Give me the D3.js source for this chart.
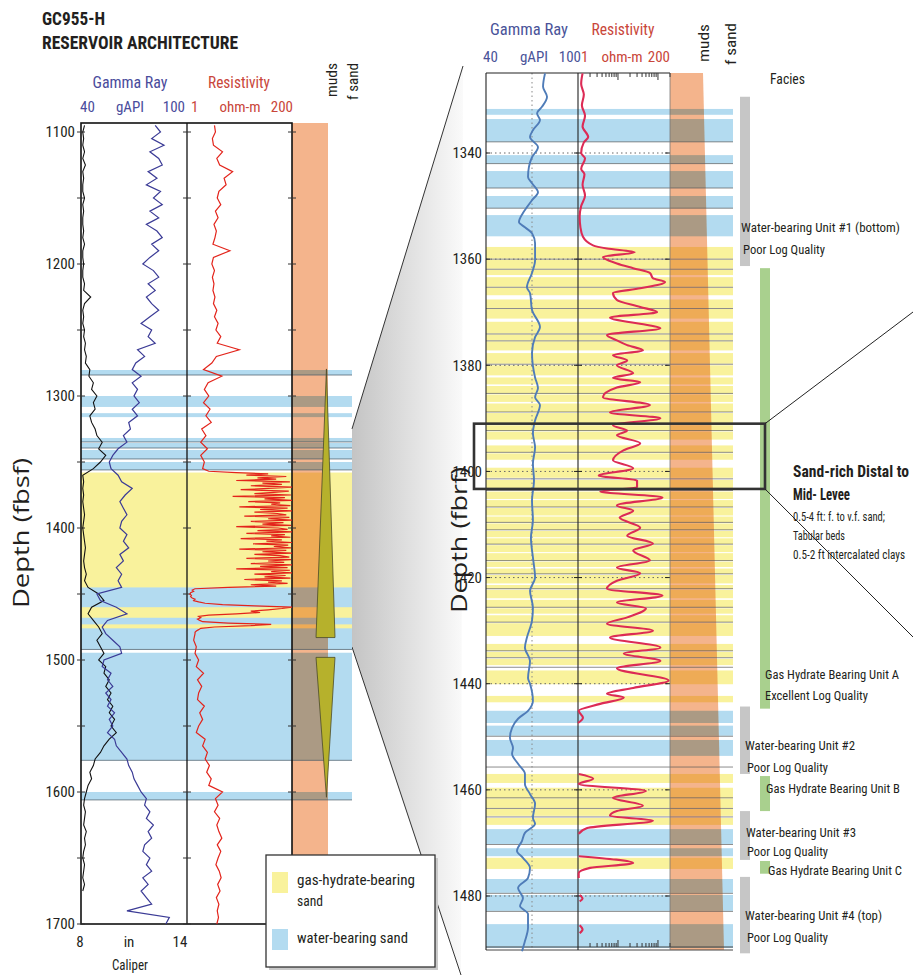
<!DOCTYPE html>
<html><head><meta charset="utf-8">
<script src="https://cdn.jsdelivr.net/npm/d3@7"></script>
<style>
body{margin:0;background:#fff;}
svg{display:block;}
text{font-family:"Liberation Sans Narrow","Arial Narrow","Roboto Condensed","DejaVu Sans Condensed",sans-serif;}
</style></head><body>
<svg id="c" width="913" height="975"></svg>
<script>
// ================= DATA =================
const leftDepthTicks = [1100,1200,1300,1400,1500,1600,1700];
const rightDepthTicks = [1340,1360,1380,1400,1420,1440,1460,1480];

// Left log (1095-1700, every 5 ft)
const leftStart = 1095, leftStep = 5;
const grLeft = [82,85,80,87,79,84,86,78,83,77,
 85,81,86,79,84,77,83,86,80,84,
 79,75,81,84,78,82,77,80,84,79,
 74,80,78,82,72,76,71,69,74,69,
 72,70,73,69,72,67,68,64,66,61,
 58,56,57,61,63,69,65,62,64,66,
 63,62,66,64,67,62,64,60,63,61,
 63,49,51,60,66,55,52,54,58,62,
 63,53,52,57,55,58,54,57,55,59,
 56,58,55,59,60,63,66,67,69,70,
 72,74,77,76,79,77,81,78,80,76,
 75,79,77,80,75,78,74,77,80,66,
 90,88];
const caliperLeft = [8.2,8.1,8.15,8.1,8.2,8.1,8.25,8.1,8.15,8.1,
 8.1,8.2,8.1,8.15,8.1,8.1,8.15,8.1,8.2,8.1,
 8.1,8.15,8.1,8.1,8.2,8.15,8.55,8.2,8.1,8.15,
 8.1,8.2,8.15,8.25,8.2,8.3,8.25,8.5,8.45,8.7,
 8.6,8.9,8.7,8.8,8.5,8.6,8.8,8.9,9.2,9.0,
 9.4,9.1,8.7,8.1,8.15,8.1,8.15,8.1,8.15,8.2,
 8.15,8.1,8.15,8.2,8.25,8.2,8.15,8.2,8.3,8.2,
 8.4,9.0,9.3,8.6,8.4,8.7,9.0,9.2,8.9,9.1,
 9.3,9.0,9.4,9.3,9.6,9.4,9.7,9.5,9.8,9.6,
 9.9,9.7,10.0,9.6,9.3,9.1,8.8,8.7,8.5,8.6,
 8.4,8.3,8.2,8.15,8.25,8.2,8.15,8.3,8.2,8.25,
 8.15,8.1,8.2,8.15,8.1,8.2,8.1,null,null,null,
 null,null];
// Left resistivity in three sampling segments
const resLeftAStart = 1095, resLeftAStep = 5;
const resLeftA = [4.0,4.2,3.6,3.8,6.0,4.5,5.2,10,6.5,7.2,
 5.0,4.6,5.5,4.2,4.8,3.9,4.4,4.1,3.7,8.7,
 3.8,3.5,4.0,3.6,3.9,3.7,4.1,3.8,4.5,4.0,
 4.8,4.3,5.5,4.6,14,4.4,3.5,2.3,5.8,2.9,
 2.4,3.0,2.3,3.2,2.6,3.4,2.1,2.6,2.0,2.8,
 2.0,2.4,2.2];
const resLeftBStart = 1357, resLeftBStep = 1;
const resLeftB = [3,12,60,20,150,35,90,12,180,45,
 120,25,200,60,15,170,80,30,190,10,
 140,50,200,22,110,70,185,14,160,40,
 200,30,95,150,18,175,60,200,25,130,
 45,190,12,100,160,35,200,20,140,70,
 185,15,120,55,200,28,165,80,190,14,
 150,45,200,30,110,175,20,190,60,135,
 25,200,40,160,12,180,70,200,30,145,
 50,185,18,120,60,160,25,90,8,1.5,
 1.3,1.4,1.2,1.15,1.25,1.2,1.3,1.5,1.4,1.8,
 2.5,6,30,200,120,60,25,40,12,3,
 1.8,2.0,1.7,1.9,2.2,8,70,25,4,2.0,
 1.8,1.6,1.5];
const resLeftCStart = 1480, resLeftCStep = 5;
const resLeftC = [1.5,1.4,1.6,1.5,1.8,1.6,2.3,1.7,2.1,1.8,1.7,2.4,1.9,2.2,1.8,1.6,2.5,2.2,2.8,2.5,3.1,2.7,3.4,3.0,
 6.0,4.2,4.8,4.0,5.2,4.5,5.0,5.8,4.6,5.5,4.8,4.3,5.1,5.6,4.7,5.3,4.4,5.0,4.6,4.9,4.5];

// Left sand intervals (ft)
const leftBandTop    = [1280.3,1300,1313,1331.8,1335.6,1340.9,1350,1358,1445,1460,1468,1473,1476,1494.5,1600];
const leftBandBottom = [1284.1,1308.3,1316,1334.8,1339.4,1347.7,1356,1445,1460,1468,1473,1476,1492,1576,1606];
const leftBandKind   = ['w','w','w','w','w','w','w','h','w','h','w','h','w','w','w'];
const leftLineDepth  = [1284.1,1334.8,1339.4,1347.7,1356,1492,1576,1606];
// grain-size triangles (depth of wide end / narrow end)
const triWide   = [1483,1498];
const triNarrow = [1279.5,1604];

// Right (zoomed) log
const grRightDepth = [1325,1327.5,1329.4,1331.3,1332.5,1333.8,1335.7,1337,1338.9,1340.8,
 1342.6,1344.5,1345.7,1347.4,1348.9,1350.2,1351.3,1353,1354,1355.1,
 1357,1360.2,1362.6,1365.3,1366.4,1369.6,1372.8,1374.7,1377.7,1382.3,
 1384.3,1386,1387.5,1390.4,1392.8,1395.5,1398.5,1401.7,1405.5,1409.2,
 1412.5,1416.2,1420,1422.5,1425.7,1428.1,1431.3,1433.2,1435.7,1438.9,
 1440,1443.2,1445.1,1446.6,1448.3,1450.2,1452.1,1453.2,1455.1,1457,
 1458.9,1460.8,1462.6,1465.3,1466.4,1468.1,1469.6,1471.5,1472.8,1474.7,
 1476.6,1478.5,1480.4,1481.9,1483.4,1486,1488.5,1490.4];
const grRightVal = [78.5,77.2,79.8,76.5,73.3,75.2,70.6,68.7,73.9,70,
 68,67.4,70,73.9,70,66.7,64.1,61.5,65.4,70,
 72,72,70,66.7,68.7,70,75.2,72,70,72,
 73.9,72,75.2,72,70.6,72,70.6,71.3,70,70.6,
 69.3,70.6,72,68.7,70.6,70,66.7,65.4,68.7,67.4,
 68.7,70.6,67.4,60.9,57,55.6,57.6,57,60.9,65.4,
 65.4,68.7,72,70.6,72,65.4,63.5,60.2,64.1,68.7,
 67.4,60.9,64.1,62.2,67.4,67.4,65.4,63.5];
const resRightDepth = [1325,1327,1329,1331,1333,1335,1337,1338,1340,1341,
 1343,1344,1346,1348,1350,1352,1354,1355.8,1357.4,1358,
 1358.7,1359.6,1360.8,1361.7,1362.6,1363.6,1364.3,1365.5,1366.4,1367.7,
 1369,1370,1371,1372.5,1373,1374.3,1375.3,1376.2,1377.2,1378.1,
 1379.1,1380,1381.5,1382.4,1383.2,1384.2,1386,1387.5,1388.9,1390,
 1391.3,1392.3,1393.2,1394.7,1396,1397.9,1399.4,1400.8,1401.7,1403,
 1403.8,1404.9,1406.4,1407.4,1408.7,1410.6,1412.1,1413.6,1414.9,1416.8,
 1418.1,1419.2,1420.6,1422.1,1423.4,1424.7,1425.8,1427.5,1428.7,1430,
 1431.3,1433.2,1434.3,1435.7,1437.1,1439.4,1440.8,1441.9,1442.6,1443.8,
 1445.1,1446.4,1447.4,1448,1457,1457.9,1458.9,1460.2,1461.5,1463,
 1464,1464.9,1465.8,1467.2,1468.3,1469,1472.5,1473.8,1474.7,1475.7,
 1476.6,1477,1479.8,1480.5,1481,1482,1485.5,1486.3,1487];
const resRightVal = [1.3,1.2,1.4,1.25,1.5,1.3,1.8,1.4,1.2,1.5,
 1.2,1.45,1.3,1.5,1.2,1.1,1.15,1.33,2.37,5.3,
 26,4.2,9.4,24,63,75,150,36,7.5,9.4,
 36,95,6.3,63,115,5.3,9.4,17,42,7.5,
 17,9.4,24,7.5,36,9.4,4.2,63,6.3,115,
 7.5,17,9.4,36,14,7.5,24,3.3,30,30,
 3.6,130,9.4,24,11,36,17,75,24,63,
 9.4,36,9.4,5.3,130,9.4,50,17,5.3,75,
 6.3,115,14,115,9.4,185,24,5.3,14,3.6,
 1.04,1.33,1.0,null,1.04,2.4,1.04,50,7.5,42,
 9.4,6.3,75,1.7,1.04,null,1.04,24,2.0,1.04,
 1.04,null,1.1,1.3,1.1,null,1.1,1.3,1.1];

const rightBlueTop    = [1331.7,1333.6,1340.4,1343.4,1348.1,1351.7,1445.1,1447.9,1450.6,1467.4,1471.0,1476.8,1479.8,1485.3];
const rightBlueBottom = [1332.8,1337.9,1342.0,1346.6,1350.4,1355.7,1447.4,1449.8,1453.6,1470.2,1472.5,1479.4,1482.8,1489.8];
const rightYellowTop = [1357.7,1360.1,1362.0,1363.4,1365.4,1367.6,1369.4,1371.8,1374.2,1375.5,
 1377.7,1380.0,1382.3,1383.9,1385.5,1387.2,1389.0,1391.3,1392.5,1395.1,
 1396.6,1399.3,1401.6,1403.8,1405.4,1406.9,1408.5,1409.8,1411.2,1412.6,
 1413.9,1415.4,1417.0,1418.3,1419.5,1421.4,1422.3,1424.2,1425.8,1427.1,
 1428.6,1432.5,1434.0,1435.3,1437.5,1442.3,1457.0,1459.6,1461.6,1463.6,
 1465.3,1472.8];
const rightYellowBottom = [1359.9,1361.8,1363.0,1365.2,1366.8,1369.2,1371.2,1374.0,1375.3,1377.2,
 1379.7,1381.9,1383.6,1385.3,1386.9,1388.8,1391.0,1392.3,1394.0,1396.4,
 1397.8,1401.2,1403.4,1405.2,1406.7,1408.3,1409.6,1411.0,1412.4,1413.7,
 1415.2,1416.8,1418.0,1419.3,1421.1,1422.1,1423.9,1425.6,1426.8,1428.4,
 1431.0,1433.8,1435.0,1436.5,1440.1,1443.5,1458.7,1461.5,1463.4,1464.9,
 1466.6,1474.9];
const rightLineDepth = [1337.9,1342.0,1346.6,1350.4,1360.0,1361.9,1365.3,1369.3,1374.1,1375.4,1379.8,1385.3,1388.8,1392.3,
 1396.4,1401.4,1403.6,1406.7,1409.6,1411.0,1413.7,1416.8,1419.3,1422.1,1425.6,1428.4,1433.8,1435.1,1436.9,
 1449.9,1455.7,1461.5,1463.5,1465.1,1470.3,1479.5,1482.9];

// Facies column
const faciesTop    = [1329.4,1361.7,1444.3,1457.4,1464.0,1473.4,1476.4];
const faciesBottom = [1361.3,1444.7,1457.0,1464.0,1473.2,1475.8,1490.8];
const faciesKind   = ['water','hydrate','water','hydrate','water','hydrate','water'];
const zoomBox = [1391, 1403.3];

// ================= SCALES / LAYOUT =================
const svg = d3.select('#c');
const L = {x0:81, x1:187, x2:292, m0:292, m1:328, b1:352, top:123, bottom:924};
const R = {x0:486, x1:578, x2:670, b1:733, top:73, bottom:950};
const yL = d3.scaleLinear().domain([1100,1700]).range([132,924]);
const yR = d3.scaleLinear().domain([1340,1480]).range([153,896]);
const xGRL = d3.scaleLinear().domain([40,100]).range([L.x0,L.x1]);
const xCalL = d3.scaleLinear().domain([8,14]).range([L.x0,L.x1]);
const xResL = d3.scaleLog().domain([1,200]).range([L.x1,L.x2]).clamp(true);
const xGRR = d3.scaleLinear().domain([40,100]).range([R.x0,R.x1]);
const xResR = d3.scaleLog().domain([1,200]).range([R.x1,R.x2]).clamp(true);

const YELLOW = '#f9f29c', BLUE = '#b3dbf0', ORANGE = '#f4b48c';
const WIDE = '"Open Sans","Liberation Sans",sans-serif';

function T(g, str, x, y, o = {}) {
  const t = g.append('text').attr('x', x).attr('y', y).text(str)
    .attr('font-size', o.size || 14).attr('fill', o.fill || '#231f20');
  if (o.anchor) t.attr('text-anchor', o.anchor);
  if (o.weight) t.attr('font-weight', o.weight);
  if (o.family) t.style('font-family', o.family);
  if (o.len) t.attr('textLength', o.len).attr('lengthAdjust', 'spacingAndGlyphs');
  if (o.rot) t.attr('transform', `rotate(${o.rot},${x},${y})`);
  return t;
}

// ================= CONNECTOR =================
const defs = svg.append('defs');
const grad = defs.append('linearGradient').attr('id', 'conn').attr('x1', 0).attr('x2', 1).attr('y1', 0).attr('y2', 0);
grad.append('stop').attr('offset', 0).attr('stop-color', '#c4c4c4');
grad.append('stop').attr('offset', 1).attr('stop-color', '#fafafa');
const rTopD = yR.invert(R.top), rBotD = yR.invert(R.bottom);
const cA = [L.b1, yL(rTopD)], cB = [463, 66], cC = [461, 975], cD = [L.b1, yL(rBotD)];
svg.append('polygon').attr('points', [cA, cB, cC, cD].map(p => p.join(',')).join(' ')).attr('fill', 'url(#conn)');
svg.append('line').attr('x1', cA[0]).attr('y1', cA[1]).attr('x2', cB[0]).attr('y2', cB[1]).attr('stroke', '#333').attr('stroke-width', 1);
svg.append('line').attr('x1', cD[0]).attr('y1', cD[1]).attr('x2', cC[0]).attr('y2', cC[1]).attr('stroke', '#333').attr('stroke-width', 1);

// ================= LEFT PANEL =================
const gL = svg.append('g').style('isolation', 'isolate');
gL.append('rect').attr('x', L.m0).attr('y', L.top).attr('width', L.m1 - L.m0).attr('height', L.bottom - L.top).attr('fill', ORANGE);
leftBandTop.forEach((t, i) => {
  gL.append('rect').attr('x', L.x0).attr('width', L.b1 - L.x0)
    .attr('y', yL(t)).attr('height', yL(leftBandBottom[i]) - yL(t))
    .attr('fill', leftBandKind[i] === 'h' ? YELLOW : BLUE).style('mix-blend-mode', 'multiply');
});
leftLineDepth.forEach(d => {
  gL.append('line').attr('x1', L.x0).attr('x2', L.b1).attr('y1', yL(d)).attr('y2', yL(d))
    .attr('stroke', '#4a5a66').attr('stroke-width', 0.9).attr('opacity', 0.8);
});
// triangles
const triX = d3.scaleLinear().domain([-1, 1]).range([316, 335]);
triWide.forEach((w, i) => {
  const n = triNarrow[i];
  const pts = [[triX(-1), yL(w)], [triX(1), yL(w)], [triX(0.1), yL(n)]];
  gL.append('polygon').attr('points', pts.map(p => p.join(',')).join(' '))
    .attr('fill', '#b6b12c').attr('stroke', '#4a4a2a').attr('stroke-width', 0.8);
});
// frame
gL.append('rect').attr('x', L.x0).attr('y', L.top).attr('width', L.x2 - L.x0).attr('height', L.bottom - L.top)
  .attr('fill', 'none').attr('stroke', '#111').attr('stroke-width', 1.6);
gL.append('line').attr('x1', L.x1).attr('x2', L.x1).attr('y1', L.top).attr('y2', L.bottom).attr('stroke', '#111').attr('stroke-width', 1.3);
d3.range(1100, 1701, 50).forEach(d => {
  [L.x0, L.x1, L.x2].forEach(x => {
    gL.append('line').attr('x1', x - 4).attr('x2', x + 4).attr('y1', yL(d)).attr('y2', yL(d)).attr('stroke', '#333').attr('stroke-width', 1);
  });
});
// curves
const seriesFrom = (start, step, arr) => arr.map((v, i) => ({d: start + i * step, v}));
const lineL = (xs) => d3.line().defined(p => p.v != null).x(p => xs(p.v)).y(p => yL(p.d));
gL.append('path').datum(seriesFrom(leftStart, leftStep, caliperLeft)).attr('d', lineL(xCalL))
  .attr('fill', 'none').attr('stroke', '#111').attr('stroke-width', 1.1);
gL.append('path').datum(seriesFrom(leftStart, leftStep, grLeft)).attr('d', lineL(xGRL))
  .attr('fill', 'none').attr('stroke', '#3b3b96').attr('stroke-width', 1.2);
const resLeftAll = seriesFrom(resLeftAStart, resLeftAStep, resLeftA)
  .concat(seriesFrom(resLeftBStart, resLeftBStep, resLeftB))
  .concat(seriesFrom(resLeftCStart, resLeftCStep, resLeftC));
gL.append('path').datum(resLeftAll).attr('d', lineL(xResL))
  .attr('fill', 'none').attr('stroke', '#e3241b').attr('stroke-width', 1.2);

// left axis labels
const axL = svg.append('g').attr('transform', `translate(${L.x0},0)`)
  .call(d3.axisLeft(yL).tickValues(leftDepthTicks).tickSize(0).tickPadding(6).tickFormat(d3.format('d')));
axL.select('.domain').remove();
axL.selectAll('text').attr('font-size', 15).attr('fill', '#231f20').attr('font-family', null);
T(svg, 'Depth (fbsf)', 29, 533, {size: 22, anchor: 'middle', rot: -90, len: 150, family: WIDE});

// left header
T(svg, 'GC955-H', 42, 25, {size: 19, weight: 'bold', len: 63});
T(svg, 'RESERVOIR ARCHITECTURE', 42, 49, {size: 19, weight: 'bold', len: 196});
T(svg, 'Gamma Ray', 130, 88, {size: 17, anchor: 'middle', fill: '#4a4c9c', len: 75});
T(svg, 'Resistivity', 239, 88, {size: 17, anchor: 'middle', fill: '#c9463a', len: 62});
T(svg, '40', 80, 112, {size: 15, fill: '#4a4c9c'});
T(svg, 'gAPI', 130, 112, {size: 15, anchor: 'middle', fill: '#4a4c9c'});
T(svg, '100', 185, 112, {size: 15, anchor: 'end', fill: '#4a4c9c'});
T(svg, '1', 191, 112, {size: 15, fill: '#c9463a'});
T(svg, 'ohm-m', 240, 112, {size: 15, anchor: 'middle', fill: '#c9463a'});
T(svg, '200', 293, 112, {size: 15, anchor: 'end', fill: '#c9463a'});
T(svg, 'muds', 337, 97, {size: 15, rot: -90, len: 34});
T(svg, 'f sand', 358, 100, {size: 15, rot: -90, len: 37});
// caliper axis
T(svg, '8', 80, 947, {size: 15, anchor: 'middle'});
T(svg, 'in', 129, 947, {size: 15, anchor: 'middle'});
T(svg, '14', 180, 947, {size: 15, anchor: 'middle'});
T(svg, 'Caliper', 130, 970, {size: 15, anchor: 'middle', len: 36});

// legend
const lg = svg.append('g');
lg.append('rect').attr('x', 269).attr('y', 858).attr('width', 169).attr('height', 112).attr('fill', '#c9c9c9');
lg.append('rect').attr('x', 266).attr('y', 855).attr('width', 169).attr('height', 112).attr('fill', '#fff').attr('stroke', '#333').attr('stroke-width', 1.3);
lg.append('rect').attr('x', 272).attr('y', 872).attr('width', 16).attr('height', 21).attr('fill', YELLOW);
lg.append('rect').attr('x', 272).attr('y', 929).attr('width', 16).attr('height', 21).attr('fill', BLUE);
T(lg, 'gas-hydrate-bearing', 297, 885, {size: 15, len: 118});
T(lg, 'sand', 297, 906, {size: 15, len: 26});
T(lg, 'water-bearing sand', 297, 943, {size: 15, len: 111});

// ================= RIGHT PANEL =================
const gR = svg.append('g').style('isolation', 'isolate');
gR.append('polygon').attr('points', [[R.x2, R.top], [703, R.top], [724, R.bottom], [R.x2, R.bottom]].map(p => p.join(',')).join(' '))
  .attr('fill', ORANGE);
rightBlueTop.forEach((t, i) => {
  gR.append('rect').attr('x', R.x0).attr('width', R.b1 - R.x0).attr('y', yR(t)).attr('height', yR(rightBlueBottom[i]) - yR(t))
    .attr('fill', BLUE).style('mix-blend-mode', 'multiply');
});
rightYellowTop.forEach((t, i) => {
  gR.append('rect').attr('x', R.x0).attr('width', R.b1 - R.x0).attr('y', yR(t)).attr('height', yR(rightYellowBottom[i]) - yR(t))
    .attr('fill', YELLOW).style('mix-blend-mode', 'multiply');
});
rightLineDepth.forEach(d => {
  gR.append('line').attr('x1', R.x0).attr('x2', R.b1).attr('y1', yR(d)).attr('y2', yR(d))
    .attr('stroke', '#555').attr('stroke-width', 0.9).attr('opacity', 0.75);
});
// grid
rightDepthTicks.forEach(d => {
  gR.append('line').attr('x1', R.x0).attr('x2', R.x2).attr('y1', yR(d)).attr('y2', yR(d))
    .attr('stroke', '#666').attr('stroke-width', 1).attr('stroke-dasharray', '1.5,3');
  gR.append('line').attr('x1', R.x1 - 4).attr('x2', R.x1 + 4).attr('y1', yR(d)).attr('y2', yR(d)).attr('stroke', '#222');
  gR.append('line').attr('x1', R.x2 - 5).attr('x2', R.x2).attr('y1', yR(d)).attr('y2', yR(d)).attr('stroke', '#222');
  gR.append('line').attr('x1', R.x0).attr('x2', R.x0 + 4).attr('y1', yR(d)).attr('y2', yR(d)).attr('stroke', '#222');
});
gR.append('line').attr('x1', xGRR(70)).attr('x2', xGRR(70)).attr('y1', R.top).attr('y2', R.bottom)
  .attr('stroke', '#888').attr('stroke-width', 1).attr('stroke-dasharray', '1.5,3');
// frame
gR.append('line').attr('x1', R.x0).attr('x2', R.x2).attr('y1', R.top).attr('y2', R.top).attr('stroke', '#222').attr('stroke-width', 1.2);
gR.append('line').attr('x1', R.x0).attr('x2', R.b1).attr('y1', R.bottom - 3).attr('y2', R.bottom - 3).attr('stroke', '#444').attr('stroke-width', 1);
gR.append('line').attr('x1', R.x0).attr('x2', R.b1).attr('y1', R.bottom).attr('y2', R.bottom).attr('stroke', '#444').attr('stroke-width', 1);
[R.x0, R.x1].forEach(x => gR.append('line').attr('x1', x).attr('x2', x).attr('y1', R.top).attr('y2', R.bottom).attr('stroke', '#222').attr('stroke-width', 1.1));
gR.append('line').attr('x1', R.x2).attr('x2', R.x2).attr('y1', R.top).attr('y2', R.bottom).attr('stroke', '#777').attr('stroke-width', 0.8);
// log ticks
const logTicks = [2,3,4,5,6,7,8,9,10,20,30,40,50,60,70,80,90,100,200];
logTicks.forEach(v => {
  const len = (v === 10 || v === 100) ? 7 : 4;
  gR.append('line').attr('x1', xResR(v)).attr('x2', xResR(v)).attr('y1', R.top).attr('y2', R.top + len).attr('stroke', '#333');
  gR.append('line').attr('x1', xResR(v)).attr('x2', xResR(v)).attr('y1', R.bottom - 3).attr('y2', R.bottom - 3 - len).attr('stroke', '#333');
});
// curves
const grR = grRightDepth.map((d, i) => ({d, v: grRightVal[i]}));
const resR = resRightDepth.map((d, i) => ({d, v: resRightVal[i]}));
const lineR = (xs) => d3.line().defined(p => p.v != null).x(p => xs(p.v)).y(p => yR(p.d)).curve(d3.curveMonotoneY);
gR.append('path').datum(grR).attr('d', lineR(xGRR)).attr('fill', 'none').attr('stroke', '#4f7cb8').attr('stroke-width', 1.9);
gR.append('path').datum(resR).attr('d', lineR(xResR)).attr('fill', 'none').attr('stroke', '#dc2b55').attr('stroke-width', 2.1);

// right axis labels
const axR = svg.append('g').attr('transform', `translate(${R.x0 - 2},0)`)
  .call(d3.axisLeft(yR).tickValues(rightDepthTicks).tickSize(0).tickPadding(2).tickFormat(d3.format('d')));
axR.select('.domain').remove();
axR.selectAll('text').attr('font-size', 15).attr('fill', '#231f20').attr('font-family', null);
T(svg, 'Depth (fbrf)', 467, 540, {size: 21, anchor: 'middle', rot: -90, len: 146, family: WIDE});

// right header
T(svg, 'Gamma Ray', 529, 35, {size: 17, anchor: 'middle', fill: '#4a5399', len: 78});
T(svg, 'Resistivity', 623, 35, {size: 17, anchor: 'middle', fill: '#c9463a', len: 63});
T(svg, '40', 483, 62, {size: 15, fill: '#4a5399'});
T(svg, 'gAPI', 534, 62, {size: 15, anchor: 'middle', fill: '#4a5399'});
T(svg, '100', 581, 62, {size: 15, anchor: 'end', fill: '#4a5399'});
T(svg, '1', 581, 62, {size: 15, fill: '#c9463a'});
T(svg, 'ohm-m', 622, 62, {size: 15, anchor: 'middle', fill: '#c9463a'});
T(svg, '200', 670, 62, {size: 15, anchor: 'end', fill: '#c9463a'});
T(svg, 'muds', 709, 62, {size: 15, rot: -90, len: 38});
T(svg, 'f sand', 736, 65, {size: 15, rot: -90, len: 42});
T(svg, 'Facies', 770, 84, {size: 15, len: 35});

// facies bars
faciesTop.forEach((t, i) => {
  const water = faciesKind[i] === 'water';
  svg.append('rect').attr('x', water ? 740 : 760).attr('width', 10)
    .attr('y', yR(t)).attr('height', yR(faciesBottom[i]) - yR(t))
    .attr('fill', water ? '#c6c6c6' : '#a9d08e');
});
// zoom box
svg.append('rect').attr('x', 474).attr('y', yR(zoomBox[0])).attr('width', 765 - 474).attr('height', yR(zoomBox[1]) - yR(zoomBox[0]))
  .attr('fill', 'none').attr('stroke', '#333').attr('stroke-width', 2.6);
svg.append('line').attr('x1', 765).attr('y1', yR(zoomBox[0])).attr('x2', 913).attr('y2', 312).attr('stroke', '#222').attr('stroke-width', 1);
svg.append('line').attr('x1', 765).attr('y1', yR(zoomBox[1])).attr('x2', 913).attr('y2', 637).attr('stroke', '#222').attr('stroke-width', 1);

// facies labels
const F = svg.append('g');
T(F, 'Water-bearing Unit #1 (bottom)', 741, 232, {size: 13, len: 159});
T(F, 'Poor Log Quality', 743, 254, {size: 13, len: 82});
T(F, 'Sand-rich Distal to', 793, 477, {size: 16, weight: 'bold', len: 116});
T(F, 'Mid- Levee', 793, 500, {size: 16, weight: 'bold', len: 57});
T(F, '0.5-4 ft: f. to v.f. sand;', 793, 521, {size: 12.5, len: 92});
T(F, 'Tabular beds', 793, 540, {size: 12.5, len: 52});
T(F, '0.5-2 ft intercalated clays', 793, 559, {size: 12, len: 112});
T(F, 'Gas Hydrate Bearing Unit A', 765, 679, {size: 13, len: 134});
T(F, 'Excellent Log Quality', 765, 700, {size: 13, len: 103});
T(F, 'Water-bearing Unit #2', 745, 750, {size: 13, len: 110});
T(F, 'Poor Log Quality', 747, 772, {size: 13, len: 81});
T(F, 'Gas Hydrate Bearing Unit B', 766, 793, {size: 13, len: 134});
T(F, 'Water-bearing Unit #3', 746, 837, {size: 13, len: 110});
T(F, 'Poor Log Quality', 747, 856, {size: 13, len: 81});
T(F, 'Gas Hydrate Bearing Unit C', 768, 875, {size: 13, len: 134});
T(F, 'Water-bearing Unit #4 (top)', 745, 920, {size: 13, len: 137});
T(F, 'Poor Log Quality', 747, 942, {size: 13, len: 81});
</script>
</body></html>
